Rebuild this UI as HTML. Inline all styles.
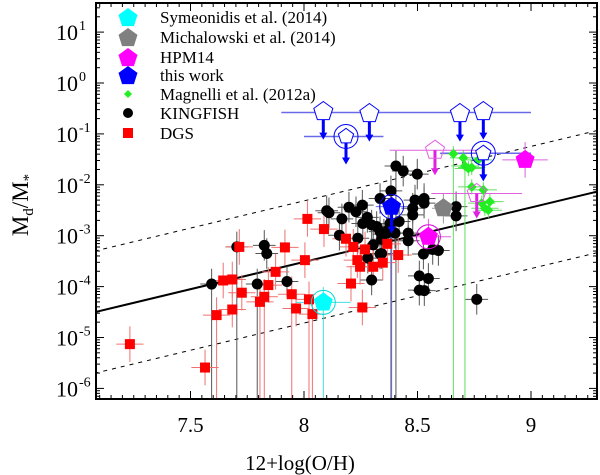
<!DOCTYPE html>
<html><head><meta charset="utf-8"><style>
body{margin:0;background:#fff}
svg{display:block;font-family:"Liberation Serif",serif}
</style></head><body>
<svg id="chart" width="600" height="475" viewBox="0 0 600 475" xmlns="http://www.w3.org/2000/svg">
<defs><clipPath id="clip"><rect x="96" y="3" width="501" height="396"/></clipPath></defs>
<g id="grid" clip-path="url(#clip)"></g>
<g id="axes"></g>
<g id="legend"></g>
<text x="300" y="470" font-size="21" text-anchor="middle">12+log(O/H)</text>
<text transform="translate(28,205) rotate(-90)" font-size="23" text-anchor="middle">M<tspan font-size="15" dy="5">d</tspan><tspan dy="-5">/M</tspan><tspan font-size="15" dy="5">*</tspan></text>
</svg>
<script>
// x: 12+log(O/H), y: log10(Md/M*)
const kfX=[7.593,7.704,7.825,7.836,7.794,7.925,8.100,8.110,8.167,8.198,8.229,8.257,8.279,8.156,8.237,8.259,8.298,8.320,8.335,8.352,8.342,8.305,8.281,8.335,8.298,8.383,8.335,8.405,8.371,8.401,8.379,8.437,8.499,8.489,8.529,8.529,8.479,8.479,8.419,8.459,8.459,8.364,8.342,8.526,8.567,8.592,8.508,8.548,8.508,8.530,8.670,8.670,8.761];
const kfY=[-3.95,-3.22,-3.19,-3.35,-3.95,-3.90,-2.51,-2.55,-2.67,-2.44,-2.53,-2.40,-2.64,-2.99,-3.05,-2.76,-2.79,-2.82,-2.92,-2.97,-3.07,-3.18,-3.44,-3.36,-3.87,-2.12,-2.27,-1.63,-2.89,-2.95,-2.76,-1.73,-1.79,-2.30,-2.27,-2.36,-2.46,-2.59,-2.72,-2.95,-3.10,-2.95,-3.35,-3.36,-3.27,-3.29,-3.79,-3.84,-4.07,-4.08,-2.43,-2.61,-4.25];
const kfLong=[0,1,4,25,27];
const dgsX=[7.233,7.564,7.615,7.644,7.684,7.684,7.726,7.715,7.806,7.825,7.843,7.875,7.916,7.946,7.965,8.004,8.015,8.088,8.022,8.037,8.185,8.217,8.235,8.247,8.269,8.305,8.347,8.367,8.207,8.257,8.415];
const dgsY=[-5.13,-5.59,-4.56,-3.88,-3.86,-4.45,-4.12,-3.22,-4.30,-4.20,-3.97,-3.71,-3.23,-4.15,-4.43,-3.48,-2.67,-2.87,-4.25,-4.54,-3.06,-3.22,-3.48,-3.61,-3.27,-3.61,-3.53,-3.16,-3.94,-4.41,-3.38];
const dgsLong=[2,8,9,13,18,19];
const magX=[8.658,8.702,8.709,8.724,8.739,8.768,8.739,8.790,8.783,8.819,8.797,8.812];
const magY=[-1.39,-1.47,-1.63,-1.68,-1.66,-1.51,-2.04,-2.10,-2.36,-2.33,-2.46,-2.50];
const magLong=[0,2];
const symX=[8.085], symY=[-4.31];
const micX=[8.614], micY=[-2.46];
const hpmX=[8.548,8.974], hpmY=[-3.02,-1.51];
const hpmLimX=[8.577,8.761], hpmLimY=[-1.32,-2.17];
const twX=[8.386], twY=[-2.43];
const twLimX=[8.085,8.288,8.687,8.790,8.185,8.790], twLimY=[-0.56,-0.60,-0.60,-0.56,-1.05,-1.38];
const fitA=-4.5, fitB=1.07, fitX0=7.08; // log y = fitA + fitB*(x-fitX0)
const xTicks=[7.5,8,8.5,9], xTickLabels=["7.5","8","8.5","9"];
const yTicks=[1,0,-1,-2,-3,-4,-5,-6];

const NS="http://www.w3.org/2000/svg";
const X=v=>304+(v-8)*227, Y=l=>83-l*50.9;
const L=96,R=597,T=3,B=399;
function mk(tag,attrs,parent){const e=document.createElementNS(NS,tag);for(const k in attrs)e.setAttribute(k,attrs[k]);parent.appendChild(e);return e;}
const g=document.getElementById('grid'), ax=document.getElementById('axes'), lg=document.getElementById('legend');
function pent(cx,cy,r){let p=[];for(let i=0;i<5;i++){const a=-Math.PI/2+i*2*Math.PI/5;p.push((cx+r*Math.cos(a)).toFixed(1)+','+(cy+r*Math.sin(a)).toFixed(1));}return p.join(' ');}
function err(x,y,col,lng,dx,dy){
  const e1=mk('line',{x1:X(x-dx),x2:X(x+dx),y1:Y(y),y2:Y(y),stroke:col,'stroke-width':1},g);
  
  const e2=mk('line',{x1:X(x),x2:X(x),y1:Y(y+dy),y2:lng?B:Y(y-dy),stroke:col,'stroke-width':1},g);
  
}
function arrow(x,y,col,len){
  const a=mk('line',{x1:X(x),x2:X(x),y1:Y(y),y2:Y(y)+len,stroke:col,'stroke-width':3},g);
  
  const h=mk('polygon',{points:`${X(x)-4},${Y(y)+len-2} ${X(x)+4},${Y(y)+len-2} ${X(x)},${Y(y)+len+5}`,fill:col},g);
  
}
[[0,'none'],[1.2,'4,5'],[-1.2,'4,5']].forEach(([o,d],i)=>{
  const x1=7.0,x2=9.35;
  const l=mk('line',{x1:X(x1),y1:Y(fitA+o+fitB*(x1-fitX0)),x2:X(x2),y2:Y(fitA+o+fitB*(x2-fitX0)),stroke:'#000','stroke-width':i?1:2,'stroke-dasharray':d},g);
  
});
kfX.forEach((x,i)=>err(x,kfY[i],'#555',kfLong.includes(i),0.05,0.3));
dgsX.forEach((x,i)=>err(x,dgsY[i],'#f07070',dgsLong.includes(i),0.06,0.35));
magX.forEach((x,i)=>err(x,magY[i],'#60e060',magLong.includes(i),0.06,0.15));
err(symX[0],symY[0],'#40e0e0',true,0.12,0.3);
err(micX[0],micY[0],'#999',false,0.05,0.3);
hpmX.forEach((x,i)=>err(x,hpmY[i],'#e060e0',false,0.1,0.35));
hpmLimX.forEach((x,i)=>err(x,hpmLimY[i],'#e060e0',false,0.2,0.0));
[[7.9,9.0,-0.58],[8.0,8.35,-1.05],[8.6,9.0,-1.38]].forEach(([a,b,y])=>{
  const l=mk('line',{x1:X(a),x2:X(b),y1:Y(y),y2:Y(y),stroke:'#6a6ae8','stroke-width':1.5},g);
  
});
err(twX[0],twY[0],'#6a6ae8',true,0.07,0.1);
kfX.forEach((x,i)=>{const c=mk('circle',{cx:X(x),cy:Y(kfY[i]),r:5.5,fill:'#000'},g);
  });
dgsX.forEach((x,i)=>{const c=mk('rect',{x:X(x)-5,y:Y(dgsY[i])-5,width:10,height:10,fill:'#f00'},g);
  });
magX.forEach((x,i)=>{const cx=X(x),cy=Y(magY[i]);const c=mk('polygon',{points:`${cx},${cy-5} ${cx+5},${cy} ${cx},${cy+5} ${cx-5},${cy}`,fill:'#2e2'},g);
  });
function ring(x,y,col){const c=mk('circle',{cx:X(x),cy:Y(y),r:12,fill:'none',stroke:col,'stroke-width':1},g);
  }
function pm(x,y,fill,stroke,name,r){const p=mk('polygon',{points:pent(X(x),Y(y),r||10),fill:fill,stroke:stroke,'stroke-width':1},g);
  }
ring(symX[0],symY[0],'#0dd');pm(symX[0],symY[0],'#0ff','none','symeonidis-point');
pm(micX[0],micY[0],'#808080','none','michalowski-point');
ring(hpmX[0],hpmY[0],'#d0d');hpmX.forEach((x,i)=>pm(x,hpmY[i],'#f0f','none','hpm14-point'));
hpmLimX.forEach((x,i)=>{arrow(x,hpmLimY[i],'#e020e0',20);pm(x,hpmLimY[i],'none','#e060e0','hpm14-upper-limit');});
ring(twX[0],twY[0],'#00f');arrow(twX[0],twY[0],'#00f',22);pm(twX[0],twY[0],'#00f','none','this-work-point');
twLimX.forEach((x,i)=>{if(i>=4)ring(x,twLimY[i],'#00f');arrow(x,twLimY[i]-0.1,'#00f',18);pm(x,twLimY[i],'#fff','#00f','this-work-upper-limit',i>=4?8:10);});
const fr=mk('rect',{x:L,y:T,width:R-L,height:B-T,fill:'none',stroke:'#000','stroke-width':2},ax);

for(let v=7.1;v<=9.3;v+=0.05){const px=X(v);if(px<L||px>R)continue;const maj=Math.abs(v*2-Math.round(v*2))<1e-6;const len=maj?8:4;
  mk('line',{x1:px,x2:px,y1:B,y2:B-len,stroke:'#000'},ax);mk('line',{x1:px,x2:px,y1:T,y2:T+len,stroke:'#000'},ax);}
xTicks.forEach((v,i)=>{const t=mk('text',{x:X(v),y:432,'font-size':21,'text-anchor':'middle'},ax);t.textContent=xTickLabels[i];
  });
for(let d=-7;d<=1;d++)for(let m=1;m<10;m++){const py=Y(d+Math.log10(m));if(py<T||py>B)continue;const len=m==1?8:4;
  mk('line',{x1:L,x2:L+len,y1:py,y2:py,stroke:'#000'},ax);mk('line',{x1:R,x2:R-len,y1:py,y2:py,stroke:'#000'},ax);}
yTicks.forEach(v=>{const t=mk('text',{x:78,y:Y(v)+8,'font-size':22,'text-anchor':'end'},ax);t.textContent='10';
  
  const s=mk('text',{x:79,y:Y(v)-2,'font-size':14,'text-anchor':'start'},ax);s.textContent=v<0?'-'+(-v):String(v);
  });
const entries=[['Symeonidis et al. (2014)','p','#0ff'],['Michalowski et al. (2014)','p','#808080'],['HPM14','p','#f0f'],['this work','p','#00f'],['Magnelli et al. (2012a)','d','#2e2'],['KINGFISH','c','#000'],['DGS','s','#f00']];
const ly=[17,37,57,75,94,113,133];
entries.forEach((e,i)=>{const y=ly[i],x=128;let m;
  if(e[1]=='p')m=mk('polygon',{points:pent(x,y+1,10),fill:e[2]},lg);
  else if(e[1]=='d')m=mk('polygon',{points:`${x},${y-4} ${x+4},${y} ${x},${y+4} ${x-4},${y}`,fill:e[2]},lg);
  else if(e[1]=='c')m=mk('circle',{cx:x,cy:y,r:5,fill:e[2]},lg);
  else m=mk('rect',{x:x-5,y:y-5,width:10,height:10,fill:e[2]},lg);
  
  const t=mk('text',{x:160,y:y+6,'font-size':17},lg);t.textContent=e[0];
  });
</script>
</body></html>
